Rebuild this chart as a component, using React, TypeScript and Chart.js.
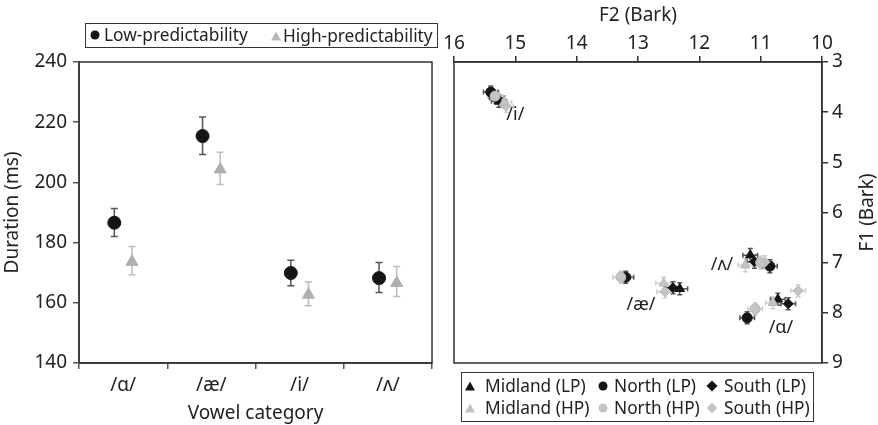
import React, { useEffect, useRef } from 'react';
import { Chart, registerables } from 'chart.js';
Chart.register(...registerables);

const FONT = "'Noto Sans', 'DejaVu Sans', sans-serif";

// ---------- Left panel: duration ----------
const vowelCategories = ['/ɑ/', '/æ/', '/i/', '/ʌ/'];
const lowPredMean = [186.6, 215.4, 169.9, 168.2];
const lowPredLower = [182.0, 209.3, 165.7, 163.4];
const lowPredUpper = [191.3, 221.7, 174.1, 173.4];
const highPredMean = [173.6, 204.3, 162.7, 166.6];
const highPredLower = [169.3, 199.3, 159.0, 162.1];
const highPredUpper = [178.7, 210.0, 166.9, 172.1];
const groupShift = 0.1;

// ---------- Right panel: vowel space (F2, F1 in Bark), order /i/ /æ/ /ʌ/ /ɑ/ ----------
const midlandLpF2 = [15.27, 12.32, 11.17, 10.72];
const midlandLpF1 = [3.78, 7.52, 6.85, 7.73];
const northLpF2 = [15.4, 13.2, 10.85, 11.22];
const northLpF1 = [3.6, 7.29, 7.07, 8.1];
const southLpF2 = [15.3, 12.43, 11.1, 10.55];
const southLpF1 = [3.72, 7.5, 6.98, 7.82];
const midlandHpF2 = [15.18, 12.58, 11.25, 10.8];
const midlandHpF1 = [3.8, 7.41, 7.05, 7.8];
const northHpF2 = [15.33, 13.28, 11.0, 11.09];
const northHpF1 = [3.68, 7.29, 7.0, 7.92];
const southHpF2 = [15.15, 12.56, 10.93, 10.39];
const southHpF1 = [3.88, 7.58, 6.99, 7.56];
const f2Err = [0.12, 0.13, 0.12, 0.12];
const f1Err = [0.12, 0.12, 0.13, 0.12];
const vowelSpaceLabels = ['/i/', '/æ/', '/ʌ/', '/ɑ/'];
const vowelLabelF2 = [15.0, 12.95, 11.63, 10.67];
const vowelLabelF1 = [4.06, 7.84, 7.05, 8.3];

const errorBarPlugin = {
  id: 'errorBars',
  beforeDatasetsDraw(chart: any) {
    const ctx = chart.ctx;
    chart.data.datasets.forEach((ds: any, di: number) => {
      const e = ds.errorBars;
      if (!e) return;
      const meta = chart.getDatasetMeta(di);
      const xs = chart.scales[meta.xAxisID];
      const ys = chart.scales[meta.yAxisID];
      ctx.save();
      ctx.strokeStyle = e.color;
      ctx.lineWidth = e.width;
      const cap = e.cap;
      meta.data.forEach((pt: any, i: number) => {
        const x = pt.x, y = pt.y;
        ctx.beginPath();
        if (e.yLow) {
          const y1 = ys.getPixelForValue(e.yLow[i]);
          const y2 = ys.getPixelForValue(e.yHigh[i]);
          ctx.moveTo(x, y1); ctx.lineTo(x, y2);
          ctx.moveTo(x - cap, y1); ctx.lineTo(x + cap, y1);
          ctx.moveTo(x - cap, y2); ctx.lineTo(x + cap, y2);
        }
        if (e.xErr) {
          const v = ds.data[i].x;
          const x1 = xs.getPixelForValue(v - e.xErr[i]);
          const x2 = xs.getPixelForValue(v + e.xErr[i]);
          ctx.moveTo(x1, y); ctx.lineTo(x2, y);
          ctx.moveTo(x1, y - cap); ctx.lineTo(x1, y + cap);
          ctx.moveTo(x2, y - cap); ctx.lineTo(x2, y + cap);
        }
        if (e.yErr) {
          const v = ds.data[i].y;
          const y1 = ys.getPixelForValue(v - e.yErr[i]);
          const y2 = ys.getPixelForValue(v + e.yErr[i]);
          ctx.moveTo(x, y1); ctx.lineTo(x, y2);
          ctx.moveTo(x - cap, y1); ctx.lineTo(x + cap, y1);
          ctx.moveTo(x - cap, y2); ctx.lineTo(x + cap, y2);
        }
        ctx.stroke();
      });
      ctx.restore();
    });
  },
};

const framePlugin = {
  id: 'frame',
  afterDraw(chart: any) {
    const { left, right, top, bottom } = chart.chartArea;
    const ctx = chart.ctx;
    ctx.save();
    ctx.strokeStyle = '#333';
    ctx.lineWidth = 1.5;
    ctx.strokeRect(left, top, right - left, bottom - top);
    ctx.restore();
  },
};

const vowelSpaceTextPlugin = {
  id: 'vowelText',
  afterDraw(chart: any) {
    const ctx = chart.ctx;
    const xs = chart.scales.x, ys = chart.scales.y;
    ctx.save();
    ctx.fillStyle = '#222';
    ctx.font = `18px ${FONT}`;
    ctx.textAlign = 'center';
    ctx.textBaseline = 'middle';
    vowelSpaceLabels.forEach((t, i) => {
      ctx.fillText(t, xs.getPixelForValue(vowelLabelF2[i]), ys.getPixelForValue(vowelLabelF1[i]));
    });
    // right axis title, reading bottom to top
    ctx.translate(428, (chart.chartArea.top + chart.chartArea.bottom) / 2);
    ctx.rotate(-Math.PI / 2);
    ctx.font = `19px ${FONT}`;
    ctx.fillText('F1 (Bark)', 0, 0);
    ctx.restore();
  },
};

const LP_COLOR = '#151515';
const HP_COLOR = '#c4c4c4';

function DurationChart() {
  const ref = useRef<HTMLCanvasElement>(null);
  useEffect(() => {
    const chart = new Chart(ref.current!, {
      type: 'scatter',
      data: {
        datasets: [
          {
            label: 'Low-predictability',
            xAxisID: 'xp',
            data: lowPredMean.map((v, i) => ({ x: i - groupShift, y: v })),
            pointStyle: 'circle',
            pointRadius: 6.5,
            backgroundColor: LP_COLOR,
            borderColor: LP_COLOR,
            errorBars: { yLow: lowPredLower, yHigh: lowPredUpper, color: '#555', width: 1.5, cap: 3.5 },
          } as any,
          {
            label: 'High-predictability',
            xAxisID: 'xp',
            data: highPredMean.map((v, i) => ({ x: i + groupShift, y: v })),
            pointStyle: 'triangle',
            pointRadius: 7,
            backgroundColor: '#b0b0b0',
            borderColor: '#b0b0b0',
            errorBars: { yLow: highPredLower, yHigh: highPredUpper, color: '#bdbdbd', width: 1.5, cap: 3.5 },
          } as any,
        ],
      },
      options: {
        animation: false,
        responsive: false,
        devicePixelRatio: 1,
        layout: { padding: { top: 62, right: 2, left: 0, bottom: 0 } },
        plugins: { legend: { display: false }, tooltip: { enabled: false } },
        scales: {
          x: {
            type: 'category',
            labels: vowelCategories,
            offset: true,
            position: 'bottom',
            grid: { offset: true, drawOnChartArea: false, tickLength: 6, color: '#555', lineWidth: 1.5 },
            border: { color: '#555', width: 2 },
            ticks: { color: '#222', font: { family: FONT, size: 19 }, padding: 5 },
            title: { display: true, text: 'Vowel category', color: '#222', font: { family: FONT, size: 19 }, padding: { top: 0, bottom: 0 } },
            afterFit: (s: any) => { s.height = 62; },
          },
          xp: { type: 'linear', display: false, min: -0.5, max: 3.5 },
          y: {
            min: 140,
            max: 240,
            ticks: { stepSize: 20, color: '#222', font: { family: FONT, size: 19 }, padding: 6 },
            grid: { drawOnChartArea: false, tickLength: 6, color: '#555', lineWidth: 1.5 },
            border: { color: '#666', width: 2 },
            title: { display: true, text: 'Duration (ms)', color: '#222', font: { family: FONT, size: 19 }, padding: { top: 1, bottom: 0 } },
            afterFit: (s: any) => { s.width = 79; },
          },
        },
      } as any,
      plugins: [errorBarPlugin, framePlugin],
    });
    return () => chart.destroy();
  }, []);
  return <canvas ref={ref} width={440} height={425} style={{ position: 'absolute', left: 0, top: 0 }} />;
}

function group(label: string, f2: number[], f1: number[], style: string, color: string, border: string, errColor: string, radius: number) {
  return {
    label,
    data: f2.map((v, i) => ({ x: v, y: f1[i] })),
    pointStyle: style,
    pointRadius: radius,
    backgroundColor: color,
    borderColor: border,
    borderWidth: 1,
    errorBars: { xErr: f2Err, yErr: f1Err, color: errColor, width: 1.5, cap: 2.5 },
  } as any;
}

function VowelSpaceChart() {
  const ref = useRef<HTMLCanvasElement>(null);
  useEffect(() => {
    const chart = new Chart(ref.current!, {
      type: 'scatter',
      data: {
        datasets: [
          group('Midland (HP)', midlandHpF2, midlandHpF1, 'triangle', HP_COLOR, '#b8b8b8', '#cfcfcf', 5.5),
          group('North (HP)', northHpF2, northHpF1, 'circle', HP_COLOR, '#b8b8b8', '#cfcfcf', 5),
          group('South (HP)', southHpF2, southHpF1, 'rectRot', HP_COLOR, '#b8b8b8', '#cfcfcf', 5),
          group('Midland (LP)', midlandLpF2, midlandLpF1, 'triangle', LP_COLOR, LP_COLOR, '#555', 5.5),
          group('North (LP)', northLpF2, northLpF1, 'circle', LP_COLOR, LP_COLOR, '#555', 5),
          group('South (LP)', southLpF2, southLpF1, 'rectRot', LP_COLOR, LP_COLOR, '#555', 5),
        ],
      },
      options: {
        animation: false,
        responsive: false,
        devicePixelRatio: 1,
        layout: { padding: { top: 0, right: 0, left: 14, bottom: 62 } },
        plugins: { legend: { display: false }, tooltip: { enabled: false } },
        scales: {
          x: {
            type: 'linear',
            position: 'top',
            reverse: true,
            min: 10,
            max: 16,
            ticks: { stepSize: 1, color: '#222', font: { family: FONT, size: 19 }, padding: 1 },
            grid: { drawOnChartArea: false, tickLength: 6, color: '#333', lineWidth: 1.5 },
            border: { color: '#333', width: 1.5 },
            title: { display: true, text: 'F2 (Bark)', color: '#222', font: { family: FONT, size: 19 }, padding: { top: 4, bottom: 0 } },
            afterFit: (s: any) => { s.height = 62; },
          },
          y: {
            type: 'linear',
            position: 'right',
            reverse: true,
            min: 3,
            max: 9,
            ticks: { stepSize: 1, color: '#222', font: { family: FONT, size: 19 }, padding: 4 },
            grid: { drawOnChartArea: false, tickLength: 6, color: '#333', lineWidth: 1.5 },
            border: { color: '#333', width: 1.5 },
            afterFit: (s: any) => { s.width = 56; },
          },
        },
      } as any,
      plugins: [errorBarPlugin, framePlugin, vowelSpaceTextPlugin],
    });
    return () => chart.destroy();
  }, []);
  return <canvas ref={ref} width={438} height={425} style={{ position: 'absolute', left: 440, top: 0 }} />;
}

function Marker({ shape, color }: { shape: string; color: string }) {
  return (
    <svg width="12" height="12" viewBox="0 0 12 12" style={{ display: 'block' }}>
      {shape === 'circle' && <circle cx="6" cy="6" r="4.5" fill={color} />}
      {shape === 'triangle' && <polygon points="6,1.5 11,10.5 1,10.5" fill={color} />}
      {shape === 'diamond' && <polygon points="6,0.5 11.5,6 6,11.5 0.5,6" fill={color} />}
    </svg>
  );
}

function Item({ x, y, mx, shape, color, text, size }: any) {
  return (
    <>
      <div style={{ position: 'absolute', left: mx - 6, top: y - 6 }}><Marker shape={shape} color={color} /></div>
      <div style={{ position: 'absolute', left: x, top: y - 12, fontFamily: FONT, fontSize: size, lineHeight: '24px', color: '#222', whiteSpace: 'nowrap' }}>{text}</div>
    </>
  );
}

export default function App() {
  return (
    <div style={{ position: 'absolute', left: 0, top: 0, width: 878, height: 425, background: '#fff', overflow: 'hidden' }}>
      <DurationChart />
      <VowelSpaceChart />
      <div style={{ position: 'absolute', left: 85, top: 23, width: 353, height: 25, border: '1.5px solid #333', boxSizing: 'border-box' }} />
      <Item x={104} y={35} mx={95} shape="circle" color={LP_COLOR} text="Low-predictability" size={17.3} />
      <Item x={283} y={36} mx={276} shape="triangle" color="#b8b8b8" text="High-predictability" size={17.3} />
      <div style={{ position: 'absolute', left: 461, top: 372, width: 353, height: 50, border: '1.5px solid #333', boxSizing: 'border-box' }} />
      <Item x={485} y={386} mx={470} shape="triangle" color={LP_COLOR} text="Midland (LP)" size={17.3} />
      <Item x={614} y={386} mx={603} shape="circle" color={LP_COLOR} text="North (LP)" size={17.3} />
      <Item x={724} y={386} mx={712} shape="diamond" color={LP_COLOR} text="South (LP)" size={17.3} />
      <Item x={485} y={408} mx={470} shape="triangle" color={HP_COLOR} text="Midland (HP)" size={17.3} />
      <Item x={614} y={408} mx={603} shape="circle" color={HP_COLOR} text="North (HP)" size={17.3} />
      <Item x={724} y={408} mx={712} shape="diamond" color={HP_COLOR} text="South (HP)" size={17.3} />
    </div>
  );
}
